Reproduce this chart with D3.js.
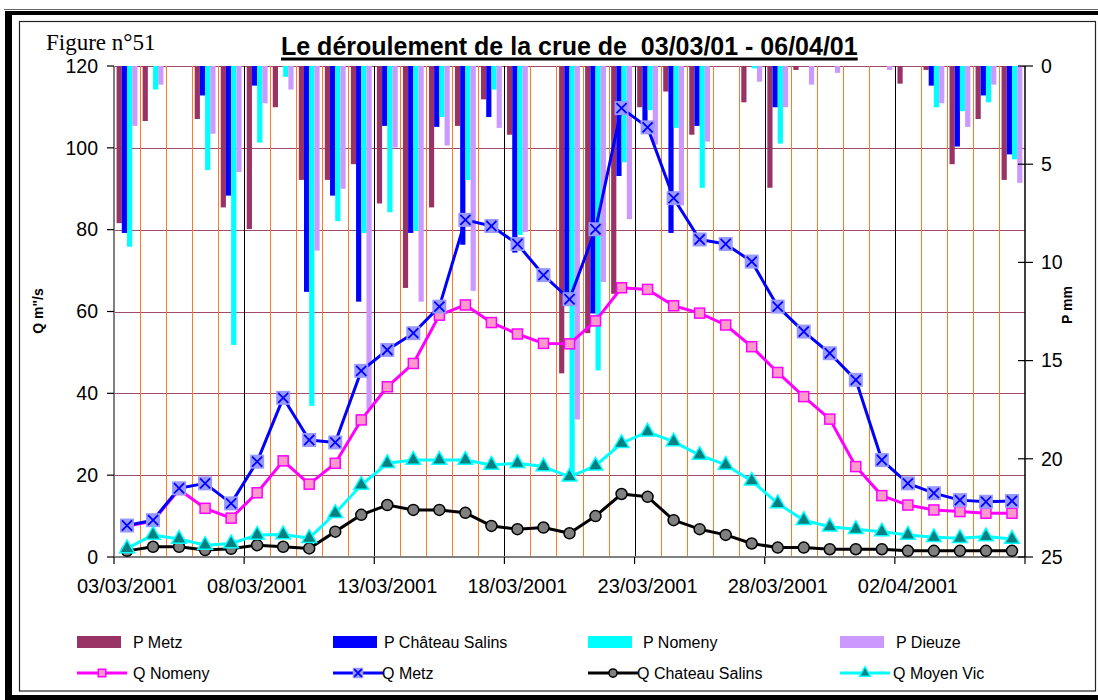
<!DOCTYPE html>
<html>
<head>
<meta charset="utf-8">
<script src="https://cdn.jsdelivr.net/npm/d3@7"></script>
<style>
  body { margin: 0; background: #fff; }
  text { font-family: Arial, "Liberation Sans", sans-serif; fill: #000; }
</style>
</head>
<body>
<div id="chart"></div>
<script>
// categories (one per day)
var dates = ["03/03/2001","04/03/2001","05/03/2001","06/03/2001","07/03/2001","08/03/2001","09/03/2001",
  "10/03/2001","11/03/2001","12/03/2001","13/03/2001","14/03/2001","15/03/2001","16/03/2001","17/03/2001",
  "18/03/2001","19/03/2001","20/03/2001","21/03/2001","22/03/2001","23/03/2001","24/03/2001","25/03/2001",
  "26/03/2001","27/03/2001","28/03/2001","29/03/2001","30/03/2001","31/03/2001","01/04/2001","02/04/2001",
  "03/04/2001","04/04/2001","05/04/2001","06/04/2001"];
var dateTicks = ["03/03/2001","08/03/2001","13/03/2001","18/03/2001","23/03/2001","28/03/2001","02/04/2001"];
var qTicks = [0, 20, 40, 60, 80, 100, 120];
var pTicks = [0, 5, 10, 15, 20, 25];

// rain (mm, right axis, hanging from the top)
var pMetz    = [8.0,2.8,0,2.7,7.2,8.3,2.1,5.8,5.8,5.0,7.0,11.3,7.2,3.05,1.7,3.5,0,15.65,13.6,11.6,2.1,1.3,3.5,0,1.85,6.2,0.2,0,0,0,0.9,0.2,5.0,2.7,5.8];
var pChateau = [8.5,0,0,1.5,6.6,1.0,0,11.5,6.6,12.0,3.05,8.5,3.1,9.1,2.6,9.5,0,12.2,12.6,5.6,2.8,8.5,3.05,0,0,2.1,0,0,0,0,0,1.0,4.1,1.5,4.5];
var pNomeny  = [9.2,1.2,0,5.3,14.2,3.9,0.55,17.3,7.9,8.5,7.45,8.4,2.6,5.8,1.2,8.6,0,20.9,15.5,4.9,2.25,3.15,6.2,0,0.12,3.95,0,0,0,0,0,2.1,2.3,1.85,4.75];
var pDieuze  = [3.05,0.95,0,3.45,5.4,1.9,1.2,9.4,6.25,17.5,4.15,12.0,4.05,11.45,3.15,8.45,0,18.0,11.0,7.8,4.0,7.1,3.85,0,0.8,2.1,0.95,0.35,0,0.2,0,1.9,3.1,0.95,5.95];

// discharge (m3/s, left axis)
var qNomeny   = [7.5,8.8,16.5,11.9,9.5,15.7,23.5,17.8,22.9,33.5,41.6,47.3,59.1,61.6,57.3,54.5,52.2,52.1,57.7,65.8,65.4,61.4,59.6,56.7,51.4,45.1,39.2,33.7,22.1,15.0,12.7,11.5,11.1,10.7,10.7];
var qMetz     = [7.7,9.0,16.8,18.0,13.1,23.3,38.9,28.6,28.0,45.5,50.6,54.7,61.2,82.4,80.9,76.5,68.9,63.0,80.1,109.7,105.0,87.7,77.6,76.5,72.2,61.2,55.1,49.8,43.3,23.7,18.0,15.6,13.9,13.5,13.7];
var qChateau  = [1.5,2.5,2.5,1.7,2.0,2.9,2.5,2.1,6.2,10.3,12.7,11.5,11.5,10.8,7.6,6.8,7.2,5.8,10.0,15.4,14.7,9.0,6.8,5.4,3.3,2.3,2.3,1.9,1.9,1.9,1.5,1.5,1.5,1.5,1.5];
var qMoyenVic = [2.1,5.4,4.4,2.9,3.3,5.4,5.5,4.6,10.7,17.6,22.9,23.7,23.7,23.7,22.5,22.9,22.1,19.6,22.3,27.8,30.6,28.2,24.9,22.5,18.6,13.1,9.0,7.4,6.8,6.2,5.4,4.8,4.6,5.0,4.4];

var barSeries = [
  {name: "P Metz", values: pMetz, color: "#993366"},
  {name: "P Château Salins", values: pChateau, color: "#0000ff"},
  {name: "P Nomeny", values: pNomeny, color: "#00ffff"},
  {name: "P Dieuze", values: pDieuze, color: "#cc99ff"}
];
var lineSeries = [
  {name: "Q Nomeny", values: qNomeny, line: "#ff00ff", marker: "square"},
  {name: "Q Metz", values: qMetz, line: "#0000ff", marker: "x"},
  {name: "Q Chateau Salins", values: qChateau, line: "#000000", marker: "circle"},
  {name: "Q Moyen Vic", values: qMoyenVic, line: "#00ffff", marker: "triangle"}
];

var W = 1098, H = 700;
var plotL = 114, plotR = 1025, plotT = 66, plotB = 557;

var svg = d3.select("#chart").append("svg")
  .attr("width", W).attr("height", H);

// frame
svg.append("line").attr("x1", 4).attr("x2", W).attr("y1", 9.5).attr("y2", 9.5)
  .attr("stroke", "#666").attr("stroke-width", 1);
svg.append("rect").attr("x", 5).attr("y", 11).attr("width", W - 5).attr("height", 4).attr("fill", "#000");
svg.append("rect").attr("x", 5).attr("y", 11).attr("width", 7).attr("height", H - 11).attr("fill", "#000");
svg.append("rect").attr("x", 5).attr("y", 695).attr("width", W - 5).attr("height", 5).attr("fill", "#000");
svg.append("rect").attr("x", 19.5).attr("y", 21.5).attr("width", 1076).attr("height", 669.5)
  .attr("fill", "none").attr("stroke", "#222").attr("stroke-width", 1.2);

// scales
var x = d3.scaleBand().domain(dates).range([plotL, plotR]);
var bw = x.bandwidth();
var x1 = d3.scaleBand().domain(barSeries.map(d => d.name)).range([bw * 0.1, bw * 0.9]);
var yL = d3.scaleLinear().domain([0, 120]).range([plotB, plotT]);
var yR = d3.scaleLinear().domain([0, 25]).range([plotT, plotB]);

// gridlines
svg.append("g").selectAll("line").data(qTicks.filter(d => d > 0)).enter().append("line")
  .attr("x1", plotL).attr("x2", plotR)
  .attr("y1", d => Math.round(yL(d)) + 0.5).attr("y2", d => Math.round(yL(d)) + 0.5)
  .attr("stroke", "#a04a70").attr("stroke-width", 1.2);

svg.append("g").selectAll("line").data(dates.slice(1)).enter().append("line")
  .attr("x1", d => Math.round(x(d)) + 0.5).attr("x2", d => Math.round(x(d)) + 0.5)
  .attr("y1", plotT).attr("y2", plotB)
  .attr("stroke", (d, i) => (i + 1) % 5 == 0 ? "#000" : "#ff7a20")
  .attr("stroke-width", 1);

// rain bars
barSeries.forEach(function(s) {
  svg.append("g").selectAll("rect").data(s.values).enter().append("rect")
    .attr("x", (d, i) => x(dates[i]) + x1(s.name))
    .attr("y", yR(0))
    .attr("width", x1.bandwidth())
    .attr("height", d => yR(d) - yR(0))
    .attr("fill", s.color);
});

// axes lines
svg.append("line").attr("x1", plotL).attr("x2", plotL).attr("y1", plotT).attr("y2", plotB)
  .attr("stroke", "#808080").attr("stroke-width", 2);
svg.append("line").attr("x1", plotL).attr("x2", plotR).attr("y1", plotB).attr("y2", plotB)
  .attr("stroke", "#808080").attr("stroke-width", 2);
svg.append("line").attr("x1", plotR).attr("x2", plotR).attr("y1", plotT).attr("y2", plotB)
  .attr("stroke", "#000").attr("stroke-width", 1.5);

// left axis
var gl = svg.append("g");
gl.selectAll("line").data(qTicks).enter().append("line")
  .attr("x1", plotL - 7).attr("x2", plotL)
  .attr("y1", d => yL(d)).attr("y2", d => yL(d))
  .attr("stroke", "#000").attr("stroke-width", 1.2);
gl.selectAll("text").data(qTicks).enter().append("text")
  .attr("x", 98).attr("y", d => yL(d)).attr("dy", "0.35em")
  .attr("text-anchor", "end").style("font-size", "19.5px")
  .text(d => d);

// right axis
var gr = svg.append("g");
gr.selectAll("line").data(pTicks).enter().append("line")
  .attr("x1", plotR - 7).attr("x2", plotR + 8)
  .attr("y1", d => yR(d)).attr("y2", d => yR(d))
  .attr("stroke", "#000").attr("stroke-width", 1.2);
gr.selectAll("text").data(pTicks).enter().append("text")
  .attr("x", 1041).attr("y", d => yR(d)).attr("dy", "0.35em")
  .style("font-size", "19.5px")
  .text(d => d);

// bottom axis: ticks between categories every 5 days, labels centred on the day
var tickIdx = [0, 5, 10, 15, 20, 25, 30];
var gb = svg.append("g");
gb.selectAll("line").data(tickIdx).enter().append("line")
  .attr("x1", d => x(dates[d])).attr("x2", d => x(dates[d]))
  .attr("y1", plotB).attr("y2", plotB + 7)
  .attr("stroke", "#000").attr("stroke-width", 1.2);
gb.append("line").attr("x1", plotR).attr("x2", plotR).attr("y1", plotB).attr("y2", plotB + 7)
  .attr("stroke", "#000").attr("stroke-width", 1.2);
gb.selectAll("text").data(dateTicks).enter().append("text")
  .attr("x", d => x(d) + bw / 2).attr("y", 593)
  .attr("text-anchor", "middle").style("font-size", "20px")
  .text(d => d);

// discharge lines
function drawMarker(g, type, size) {
  if (type == "square") {
    g.append("rect").attr("x", -size / 2).attr("y", -size / 2)
      .attr("width", size).attr("height", size)
      .attr("fill", "#ff99cc").attr("stroke", "#ff00ff").attr("stroke-width", 1.5);
  } else if (type == "x") {
    g.append("rect").attr("x", -size / 2).attr("y", -size / 2)
      .attr("width", size).attr("height", size).attr("fill", "#9999ff");
    var a = size * 0.36;
    g.append("path").attr("d", "M" + -a + "," + -a + "L" + a + "," + a + "M" + -a + "," + a + "L" + a + "," + -a)
      .attr("stroke", "#0000ff").attr("stroke-width", 1.8);
  } else if (type == "circle") {
    g.append("circle").attr("r", size / 2)
      .attr("fill", "#808080").attr("stroke", "#000").attr("stroke-width", 1.5);
  } else if (type == "triangle") {
    g.append("path").attr("d", d3.symbol().type(d3.symbolTriangle).size(size * size * 0.55))
      .attr("fill", "#008080").attr("stroke", "#00ffff").attr("stroke-width", 1.5);
  }
}
var markerSize = {square: 10, x: 14, circle: 11, triangle: 13};

var line = d3.line()
  .x((d, i) => x(dates[i]) + bw / 2)
  .y(d => yL(d));

lineSeries.forEach(function(s) {
  svg.append("path").datum(s.values)
    .attr("d", line)
    .attr("fill", "none")
    .attr("stroke", s.line)
    .attr("stroke-width", 3)
    .attr("stroke-linejoin", "round");
  s.values.forEach(function(v, i) {
    var g = svg.append("g")
      .attr("transform", "translate(" + (x(dates[i]) + bw / 2) + "," + yL(v) + ")");
    drawMarker(g, s.marker, markerSize[s.marker]);
  });
});

// axis titles
svg.append("text")
  .attr("transform", "translate(43,311) rotate(-90)")
  .attr("text-anchor", "middle")
  .style("font-size", "14px").style("font-weight", "bold")
  .text('Q m"/s');
svg.append("text")
  .attr("transform", "translate(1072,305) rotate(-90)")
  .attr("text-anchor", "middle")
  .style("font-size", "14px").style("font-weight", "bold")
  .text("P mm");

// titles
svg.append("text")
  .attr("x", 46).attr("y", 50)
  .style("font-family", "'Times New Roman', 'Liberation Serif', serif")
  .style("font-size", "23px")
  .text("Figure n°51");
var title = svg.append("text")
  .attr("x", 281).attr("y", 55)
  .style("font-size", "25px").style("font-weight", "bold")
  .attr("xml:space", "preserve")
  .text("Le déroulement de la crue de  03/03/01 - 06/04/01");
var tw = title.node().getComputedTextLength();
svg.append("rect").attr("x", 281).attr("y", 57.5).attr("width", tw).attr("height", 3).attr("fill", "#000");

// legend
var legBarX = [77, 333, 588, 840];
var legBarText = [133, 384, 643, 896];
barSeries.forEach(function(s, i) {
  svg.append("rect").attr("x", legBarX[i]).attr("y", 636)
    .attr("width", 44).attr("height", 12).attr("fill", s.color);
  svg.append("text").attr("x", legBarText[i]).attr("y", 642).attr("dy", "0.35em")
    .style("font-size", "16px").text(s.name);
});
var legLineX = [77, 333, 588, 840];
var legLineText = [133, 382, 637, 893];
lineSeries.forEach(function(s, i) {
  svg.append("line").attr("x1", legLineX[i]).attr("x2", legLineX[i] + 50)
    .attr("y1", 673).attr("y2", 673)
    .attr("stroke", s.line).attr("stroke-width", 3);
  var g = svg.append("g").attr("transform", "translate(" + (legLineX[i] + 25) + ",673)");
  drawMarker(g, s.marker, markerSize[s.marker] * 0.75);
  svg.append("text").attr("x", legLineText[i]).attr("y", 673).attr("dy", "0.35em")
    .style("font-size", "16px").text(s.name);
});
</script>
</body>
</html>
